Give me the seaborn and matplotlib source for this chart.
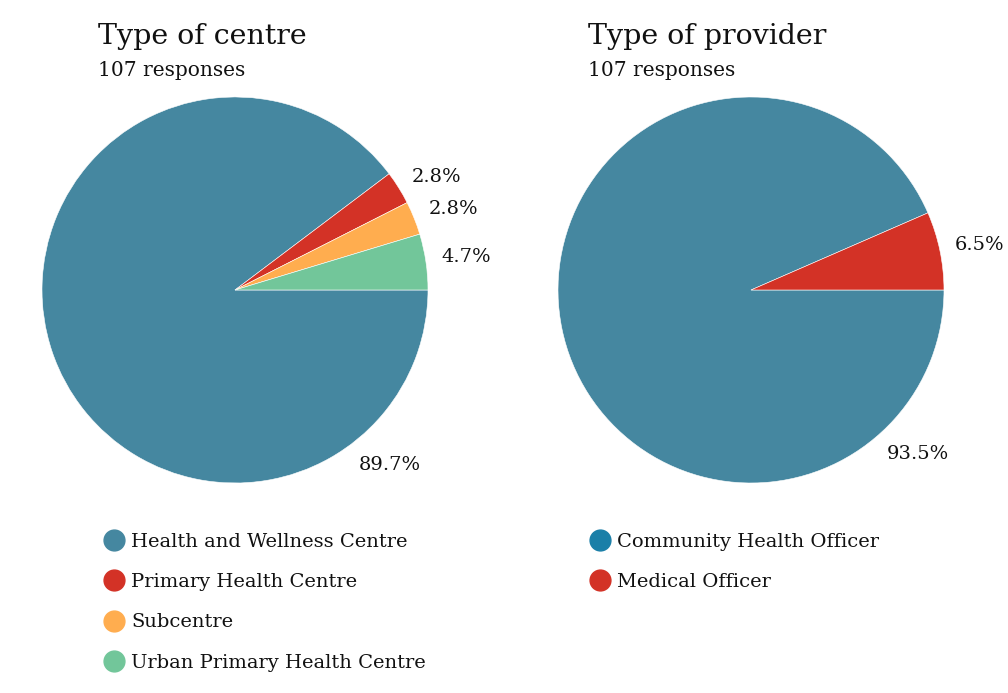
import numpy as np
import seaborn as sns
import matplotlib.pyplot as plt
from matplotlib.lines import Line2D

# data
centre_labels = ["Health and Wellness Centre", "Primary Health Centre",
                 "Subcentre", "Urban Primary Health Centre"]
centre_counts = [96, 3, 3, 5]
provider_labels = ["Community Health Officer", "Medical Officer"]
provider_counts = [100, 7]

centre_colors = ["#4587a0", "#d33226", "#ffad4f", "#72c69a"]
provider_colors = ["#4587a0", "#d33226"]
provider_legend_colors = ["#1a7fa8", "#d33226"]

sns.set_theme(style="white")
plt.rcParams['font.family'] = ['DejaVu Serif']
plt.rcParams['text.color'] = '#111111'

fig = plt.figure(figsize=(10.08, 6.93), dpi=100)
W, H = 1008, 693
R = 193


def pie_panel(cx, cy, counts, colors, big_pos):
    ax = fig.add_axes([(cx - R) / W, (H - cy - R) / H, 2 * R / W, 2 * R / H])
    wedges, _ = ax.pie(counts, colors=colors, startangle=0, counterclock=False,
                       wedgeprops=dict(edgecolor="white", linewidth=0.4))
    ax.set_xlim(-1, 1)
    ax.set_ylim(-1, 1)
    ax.set_aspect("equal")
    ax.axis("off")
    total = sum(counts)
    for i, (w, c) in enumerate(zip(wedges, counts)):
        pct = f"{100 * c / total:.1f}%"
        if i == 0:
            # big slice label sits lower right, as in the reference
            ang, dist = big_pos
            ax.text(dist * np.cos(np.radians(ang)), dist * np.sin(np.radians(ang)), pct,
                    ha="center", va="center", fontsize=14)
        else:
            ang = np.radians((w.theta1 + w.theta2) / 2)
            ax.text(1.08 * np.cos(ang), 1.08 * np.sin(ang) + 0.015, pct,
                    ha="left", va="center", fontsize=14)
    return ax


axl = pie_panel(235, 290, centre_counts, centre_colors, (-48.5, 1.21))
axr = pie_panel(751, 290, provider_counts, provider_colors, (-44.5, 1.21))

fig.text(98 / W, 1 - 44 / H, "Type of centre", fontsize=20.5, ha="left", va="baseline")
fig.text(98 / W, 1 - 76 / H, "107 responses", fontsize=14.5, ha="left", va="baseline")
fig.text(588 / W, 1 - 44 / H, "Type of provider", fontsize=20.5, ha="left", va="baseline")
fig.text(588 / W, 1 - 76 / H, "107 responses", fontsize=14.5, ha="left", va="baseline")


def legend_for(labels, colors, x, y):
    handles = [Line2D([], [], marker="o", linestyle="", markersize=15,
                      markerfacecolor=c, markeredgecolor=c) for c in colors]
    fig.legend(handles, labels, loc="upper left", bbox_to_anchor=(x / W, 1 - y / H),
               frameon=False, handletextpad=0.25, labelspacing=1.15,
               prop=dict(family="DejaVu Serif", size=14), borderpad=0, handlelength=1.2)


legend_for(centre_labels, centre_colors, 93, 523)
legend_for(provider_labels, provider_legend_colors, 579, 523)

fig.savefig("out.png", dpi=100)
